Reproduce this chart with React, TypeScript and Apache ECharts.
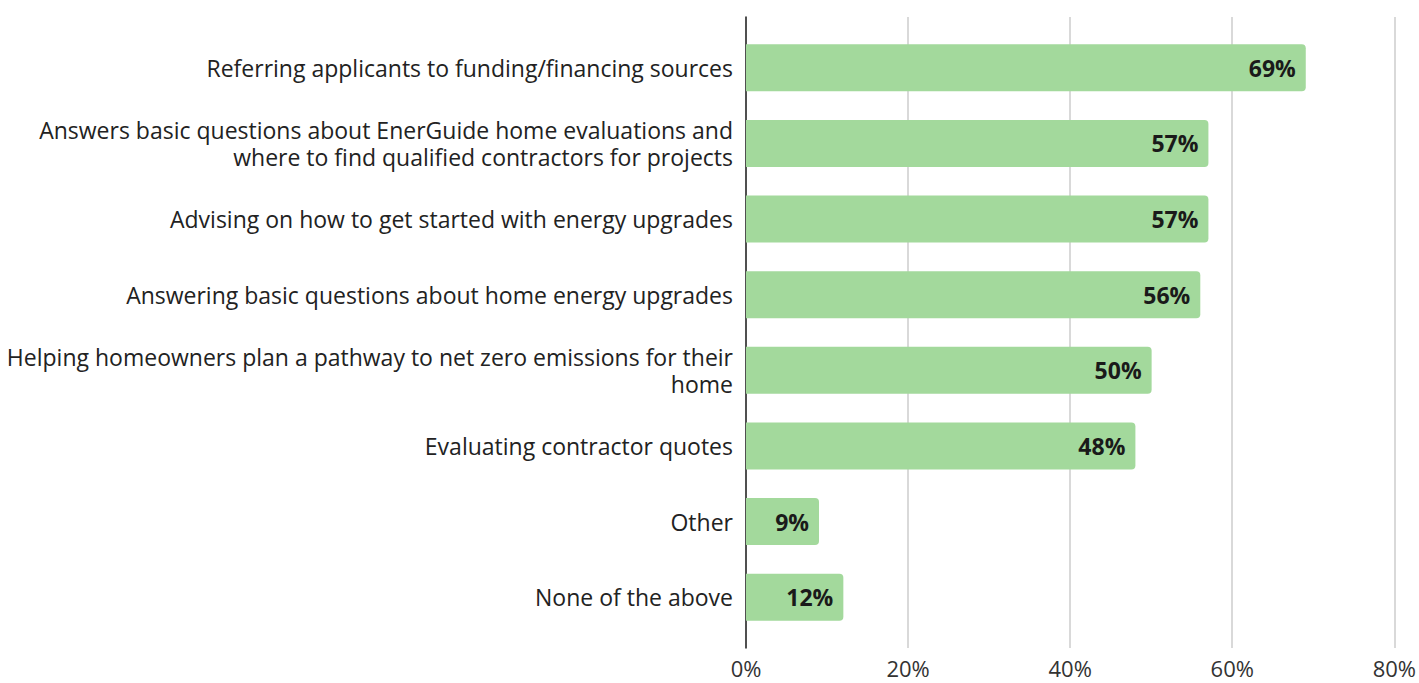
import React, { useEffect, useRef } from "react";
import * as echarts from "echarts";

const categories = [
  "Referring applicants to funding/financing sources",
  "Answers basic questions about EnerGuide home evaluations and\nwhere to find qualified contractors for projects",
  "Advising on how to get started with energy upgrades",
  "Answering basic questions about home energy upgrades",
  "Helping homeowners plan a pathway to net zero emissions for their\nhome",
  "Evaluating contractor quotes",
  "Other",
  "None of the above",
];
const values = [69, 57, 57, 56, 50, 48, 9, 12];
const xTicks = [0, 20, 40, 60, 80];

const FONT = "'Open Sans', 'Noto Sans', sans-serif";

export default function App() {
  const ref = useRef<HTMLDivElement>(null);
  useEffect(() => {
    if (!ref.current) return;
    const chart = echarts.init(ref.current, null, { renderer: "svg" });
    chart.setOption({
      animation: false,
      backgroundColor: "#ffffff",
      grid: [
        { left: 746, right: 24, top: 30, bottom: 48 },
        { left: 746, right: 24, top: 17, bottom: 35 },
      ],
      xAxis: [
        {
          gridIndex: 0,
          type: "value",
          min: xTicks[0],
          max: xTicks[xTicks.length - 1],
          interval: 20,
          show: false,
        },
        {
          gridIndex: 1,
          type: "value",
          min: xTicks[0],
          max: xTicks[xTicks.length - 1],
          interval: 20,
          axisLine: { show: false },
          axisTick: { show: false },
          splitLine: { show: true, lineStyle: { color: "#cccccc", width: 1.5 } },
          axisLabel: {
            formatter: (v: number) => `${v}%`,
            fontFamily: FONT,
            fontSize: 22,
            color: "#333333",
            margin: 9,
          },
        },
      ],
      yAxis: [
        {
          gridIndex: 0,
          type: "category",
          data: categories,
          inverse: true,
          axisLine: { show: false },
          axisTick: { show: false },
          axisLabel: {
            fontFamily: FONT,
            fontSize: 23,
            color: "#222222",
            margin: 13,
            align: "right",
            lineHeight: 27,
          },
        },
        {
          gridIndex: 1,
          type: "category",
          data: [""],
          axisLine: { show: true, lineStyle: { color: "#222222", width: 1.5 } },
          axisTick: { show: false },
          axisLabel: { show: false },
        },
      ],
      series: [
        {
          type: "bar",
          xAxisIndex: 0,
          yAxisIndex: 0,
          data: values,
          barWidth: 47,
          itemStyle: { color: "#a3d99c", borderRadius: [0, 4, 4, 0] },
          label: {
            show: true,
            position: "insideRight",
            distance: 10,
            formatter: (p: any) => `${p.value}%`,
            fontFamily: FONT,
            fontSize: 23,
            fontWeight: "bold",
            color: "#1a1a1a",
          },
        },
      ],
    });
    return () => chart.dispose();
  }, []);
  return (
    <div
      ref={ref}
      style={{ position: "fixed", left: 0, top: 0, width: 1419, height: 683 }}
    />
  );
}
